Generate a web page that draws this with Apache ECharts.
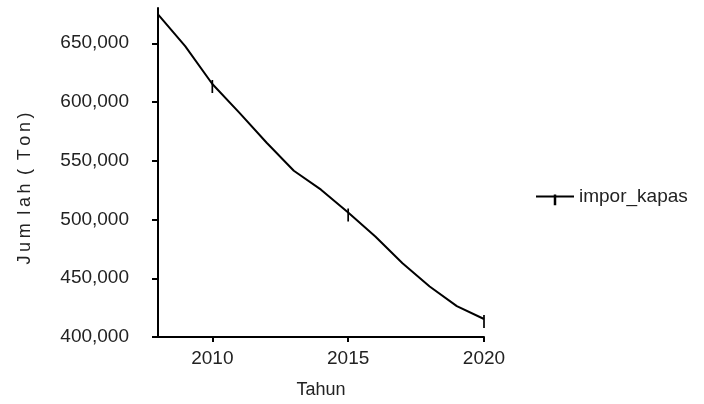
<!DOCTYPE html>
<html>
<head>
<meta charset="utf-8">
<script src="https://cdn.jsdelivr.net/npm/echarts@6/dist/echarts.min.js"></script>
<style>html,body{margin:0;padding:0;background:#fff}#c{width:704px;height:404px}</style>
</head>
<body>
<div id="c"></div>
<script>
const years = [2008, 2009, 2010, 2011, 2012, 2013, 2014, 2015, 2016, 2017, 2018, 2019, 2020];
const imporKapas = [674600, 647500, 615300, 590700, 565300, 541500, 525400, 505900, 485600, 462700, 443000, 426300, 415300];
const markerYears = [2010, 2015, 2020];
const xTicks = [2010, 2015, 2020];
const yTicks = [400000, 450000, 500000, 550000, 600000, 650000];
const seriesName = 'impor_kapas';
const yName = 'J\u2009u\u2009m\u2009 l\u2009a\u2009h\u2009 (\u2009 T\u2009o\u2009n\u2009)';

// thin vertical bar; zero-area sub-paths widen the bounding box so it is not stretched
const markPath = 'path://M-6,-12 L-6,-12 Z M6,9 L6,9 Z M-0.85,-4 L0.85,-4 L0.85,9 L-0.85,9 Z';
const chart = echarts.init(document.getElementById('c'), null, {renderer: 'canvas'});
const txt = '#222';
const ff = 'Liberation Sans, Arial, sans-serif';
chart.setOption({
  animation: false,
  backgroundColor: '#fff',
  textStyle: {fontFamily: ff},
  legend: {
    left: 530, top: 182,
    itemWidth: 38, itemHeight: 22, itemGap: 6,
    textStyle: {fontSize: 19, color: txt, fontFamily: ff},
    data: [seriesName]
  },
  grid: {left: 158, right: 220, top: 8, bottom: 66},
  xAxis: {
    type: 'value', min: 2008, max: 2020,
    name: 'Tahun', nameLocation: 'middle', nameGap: 44,
    nameTextStyle: {fontSize: 18, color: txt},
    axisLine: {lineStyle: {color: '#000', width: 2}},
    axisTick: {customValues: xTicks, length: 5, lineStyle: {color: '#000', width: 2}},
    axisLabel: {customValues: xTicks, fontSize: 19, color: txt, margin: 12,
      formatter: v => String(v)},
    splitLine: {show: false}
  },
  yAxis: {
    type: 'value', min: 400000, max: 680000,
    name: yName, nameLocation: 'middle', nameGap: 124,
    nameTextStyle: {fontSize: 18, color: txt, padding: [0, 32, 0, 0]},
    axisLine: {show: true, lineStyle: {color: '#000', width: 2}},
    axisTick: {show: true, customValues: yTicks, length: 6, lineStyle: {color: '#000', width: 2}},
    axisLabel: {customValues: yTicks, fontSize: 19, color: txt, margin: 29,
      formatter: v => v.toLocaleString('en-US')},
    splitLine: {show: false}
  },
  series: [{
    name: seriesName,
    type: 'line',
    symbol: markPath,
    symbolSize: [12, 21],
    symbolOffset: [0, -1.5],
    itemStyle: {color: '#000', borderWidth: 0},
    lineStyle: {color: '#000', width: 2},
    data: years.map((y, i) => markerYears.includes(y)
      ? {value: [y, imporKapas[i]]}
      : {value: [y, imporKapas[i]], symbol: 'none'})
  }]
});
</script>
</body>
</html>
